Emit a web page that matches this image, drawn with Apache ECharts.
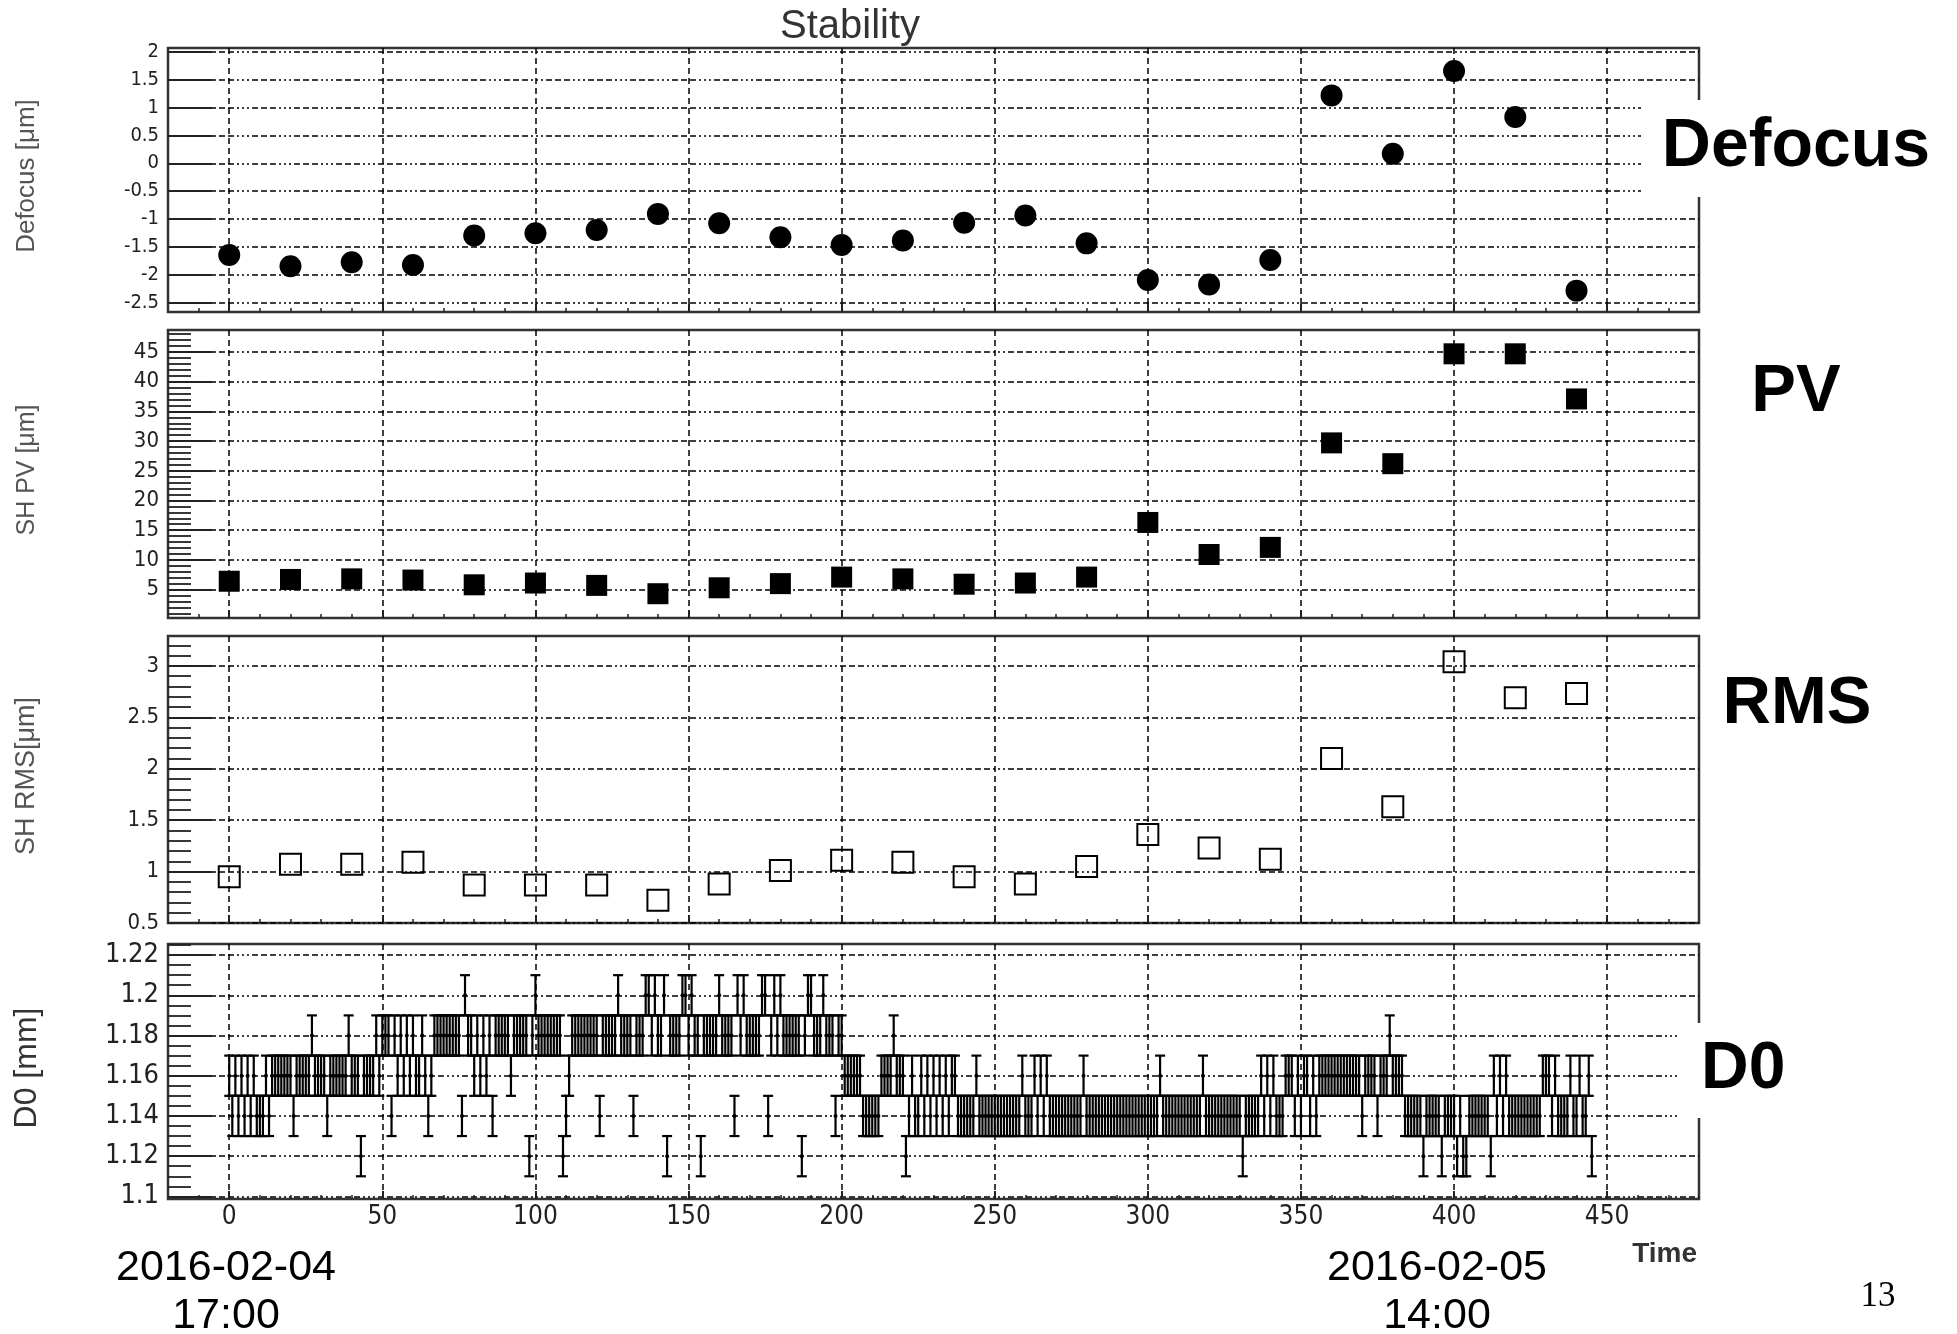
<!DOCTYPE html>
<html>
<head>
<meta charset="utf-8">
<title>Stability</title>
<script src="https://cdn.jsdelivr.net/npm/echarts@6/dist/echarts.min.js"></script>
<style>
  html, body { margin: 0; padding: 0; background: #fff; }
  #chart { width: 1957px; height: 1334px; }
</style>
</head>
<body>
<div id="chart"></div>
<script>
// 采样时间 (Defocus / PV / RMS)
const sampleTime = [0, 20, 40, 60, 80, 100, 120, 140, 160, 180, 200, 220,
  240, 260, 280, 300, 320, 340, 360, 380, 400, 420, 440];

// Defocus [um]
const defocus = [-1.65, -1.85, -1.78, -1.83, -1.30, -1.26, -1.20, -0.91, -1.08, -1.33, -1.47, -1.39,
  -1.07, -0.94, -1.44, -2.10, -2.18, -1.74, 1.22, 0.17, 1.66, 0.83, -2.29];

// SH PV [um]
const shPV = [6.4, 6.7, 6.8, 6.6, 5.8, 6.1, 5.7, 4.3, 5.3, 6.0, 7.1, 6.8,
  5.9, 6.1, 7.1, 16.3, 10.9, 12.1, 29.7, 26.2, 44.7, 44.7, 37.1];

// SH RMS [um]
const shRMS = [0.95, 1.07, 1.07, 1.09, 0.87, 0.87, 0.87, 0.72, 0.88, 1.01, 1.11, 1.09,
  0.95, 0.88, 1.05, 1.36, 1.23, 1.12, 2.10, 1.63, 3.04, 2.69, 2.73];

// D0 [mm]，每个时间单位一个点 (Time = 0, 1, 2, ...)
const d0Value = [
  1.16, 1.14, 1.16, 1.14, 1.16, 1.14, 1.16, 1.14, 1.16, 1.14,
  1.14, 1.14, 1.16, 1.14, 1.16, 1.16, 1.16, 1.16, 1.16, 1.16,
  1.16, 1.14, 1.16, 1.16, 1.16, 1.16, 1.16, 1.18, 1.16, 1.16,
  1.16, 1.16, 1.14, 1.16, 1.16, 1.16, 1.16, 1.16, 1.16, 1.18,
  1.16, 1.16, 1.16, 1.12, 1.16, 1.16, 1.16, 1.16, 1.18, 1.16,
  1.18, 1.18, 1.18, 1.14, 1.18, 1.16, 1.18, 1.16, 1.18, 1.16,
  1.18, 1.16, 1.16, 1.18, 1.16, 1.14, 1.16, 1.18, 1.18, 1.18,
  1.18, 1.18, 1.18, 1.18, 1.18, 1.18, 1.14, 1.20, 1.18, 1.18,
  1.16, 1.18, 1.16, 1.18, 1.16, 1.18, 1.14, 1.18, 1.18, 1.18,
  1.18, 1.18, 1.16, 1.18, 1.18, 1.18, 1.18, 1.18, 1.12, 1.18,
  1.20, 1.18, 1.18, 1.18, 1.18, 1.18, 1.18, 1.18, 1.18, 1.12,
  1.14, 1.16, 1.18, 1.18, 1.18, 1.18, 1.18, 1.18, 1.18, 1.18,
  1.18, 1.14, 1.18, 1.18, 1.18, 1.18, 1.18, 1.20, 1.18, 1.18,
  1.18, 1.18, 1.14, 1.18, 1.18, 1.18, 1.20, 1.20, 1.18, 1.20,
  1.18, 1.18, 1.20, 1.12, 1.18, 1.18, 1.18, 1.18, 1.20, 1.20,
  1.18, 1.20, 1.18, 1.18, 1.12, 1.18, 1.18, 1.18, 1.18, 1.18,
  1.20, 1.18, 1.18, 1.18, 1.18, 1.14, 1.20, 1.18, 1.20, 1.18,
  1.18, 1.18, 1.18, 1.18, 1.20, 1.20, 1.14, 1.18, 1.20, 1.18,
  1.20, 1.18, 1.18, 1.18, 1.18, 1.18, 1.18, 1.12, 1.18, 1.20,
  1.20, 1.18, 1.18, 1.18, 1.20, 1.18, 1.18, 1.18, 1.14, 1.18,
  1.18, 1.16, 1.16, 1.16, 1.16, 1.16, 1.16, 1.14, 1.14, 1.14,
  1.14, 1.14, 1.14, 1.16, 1.16, 1.16, 1.16, 1.18, 1.16, 1.16,
  1.16, 1.12, 1.14, 1.16, 1.14, 1.14, 1.16, 1.14, 1.16, 1.14,
  1.16, 1.14, 1.16, 1.14, 1.16, 1.14, 1.16, 1.16, 1.14, 1.14,
  1.14, 1.14, 1.14, 1.14, 1.16, 1.14, 1.14, 1.14, 1.14, 1.14,
  1.14, 1.14, 1.14, 1.14, 1.14, 1.14, 1.14, 1.14, 1.14, 1.16,
  1.14, 1.14, 1.14, 1.16, 1.14, 1.16, 1.14, 1.16, 1.14, 1.14,
  1.14, 1.14, 1.14, 1.14, 1.14, 1.14, 1.14, 1.14, 1.14, 1.16,
  1.14, 1.14, 1.14, 1.14, 1.14, 1.14, 1.14, 1.14, 1.14, 1.14,
  1.14, 1.14, 1.14, 1.14, 1.14, 1.14, 1.14, 1.14, 1.14, 1.14,
  1.14, 1.14, 1.14, 1.14, 1.16, 1.14, 1.14, 1.14, 1.14, 1.14,
  1.14, 1.14, 1.14, 1.14, 1.14, 1.14, 1.14, 1.14, 1.16, 1.14,
  1.14, 1.14, 1.14, 1.14, 1.14, 1.14, 1.14, 1.14, 1.14, 1.14,
  1.14, 1.12, 1.14, 1.14, 1.14, 1.14, 1.14, 1.16, 1.14, 1.16,
  1.14, 1.16, 1.14, 1.14, 1.14, 1.16, 1.16, 1.16, 1.14, 1.16,
  1.14, 1.16, 1.16, 1.14, 1.16, 1.14, 1.16, 1.16, 1.16, 1.16,
  1.16, 1.16, 1.16, 1.16, 1.16, 1.16, 1.16, 1.16, 1.16, 1.16,
  1.14, 1.16, 1.16, 1.16, 1.16, 1.14, 1.16, 1.16, 1.16, 1.18,
  1.16, 1.16, 1.16, 1.16, 1.14, 1.14, 1.14, 1.14, 1.14, 1.14,
  1.12, 1.14, 1.14, 1.14, 1.14, 1.14, 1.12, 1.14, 1.14, 1.14,
  1.14, 1.12, 1.14, 1.12, 1.12, 1.14, 1.14, 1.14, 1.14, 1.14,
  1.14, 1.14, 1.12, 1.16, 1.14, 1.16, 1.14, 1.16, 1.14, 1.14,
  1.14, 1.14, 1.14, 1.14, 1.14, 1.14, 1.14, 1.14, 1.14, 1.16,
  1.16, 1.16, 1.14, 1.16, 1.14, 1.14, 1.14, 1.14, 1.16, 1.14,
  1.14, 1.16, 1.14, 1.14, 1.16, 1.12
];
const d0Err = 0.01;

// 刻度
const timeTicks = [0, 50, 100, 150, 200, 250, 300, 350, 400, 450];
const defocusTicks = [-2.5, -2, -1.5, -1, -0.5, 0, 0.5, 1, 1.5, 2];
const pvTicks = [5, 10, 15, 20, 25, 30, 35, 40, 45];
const rmsTicks = [0.5, 1, 1.5, 2, 2.5, 3];
const d0Ticks = [1.1, 1.12, 1.14, 1.16, 1.18, 1.2, 1.22];

// 副刻度位置
function steps(from, to, step) {
  const out = [];
  for (let v = from; v <= to + step / 2; v += step) out.push(+v.toFixed(4));
  return out;
}

const NARROW = "'Liberation Sans Narrow', 'DejaVu Sans Condensed', sans-serif";
const SANS = "'Liberation Sans', Arial, sans-serif";
const hDash = [6, 3, 6, 3, 6, 3, 2, 3, 2, 3, 2, 3];
const vDash = [6, 4];

const grids = [
  { left: 168, width: 1531, top: 48, height: 264 },
  { left: 168, width: 1531, top: 330, height: 288 },
  { left: 168, width: 1531, top: 636, height: 287 },
  { left: 168, width: 1531, top: 944, height: 255 }
].map(g => Object.assign(g, { show: true, borderColor: '#333', borderWidth: 2.5, backgroundColor: 'transparent' }));

const yRanges = [
  { min: -2.674, max: 2.072, ticks: defocusTicks, minor: [], size: 20 },
  { min: 0.21, max: 48.71, ticks: pvTicks, minor: steps(1, 48, 1), size: 22 },
  { min: 0.5, max: 3.29, ticks: rmsTicks, minor: steps(0.6, 3.2, 0.1), size: 22 },
  { min: 1.0987, max: 1.2255, ticks: d0Ticks, minor: steps(1.1, 1.225, 0.005), size: 27 }
];

// 主坐标轴
function majorX(i) {
  return {
    type: 'value', gridIndex: i, min: -20, max: 480, position: 'bottom',
    axisLine: { show: false, onZero: false },
    axisTick: { show: true, inside: true, length: 8, customValues: timeTicks, lineStyle: { color: '#222', width: 2 } },
    axisLabel: { show: i === 3, customValues: timeTicks, fontFamily: NARROW, fontSize: 26, color: '#222', margin: 5 },
    splitLine: { show: true, lineStyle: { color: '#000', width: 1.5, type: vDash } }
  };
}
function minorX(i) {
  return {
    type: 'value', gridIndex: i, min: -20, max: 480, position: 'bottom',
    axisLine: { show: false, onZero: false },
    axisTick: { show: true, inside: true, length: 4, customValues: steps(-10, 470, 10), lineStyle: { color: '#222', width: 1.5 } },
    axisLabel: { show: false },
    splitLine: { show: false }
  };
}
function majorY(i) {
  const r = yRanges[i];
  return {
    type: 'value', gridIndex: i, min: r.min, max: r.max, position: 'left',
    axisLine: { show: false, onZero: false },
    axisTick: { show: true, inside: true, length: 44, customValues: r.ticks, lineStyle: { color: '#222', width: 2.2 } },
    axisLabel: { customValues: r.ticks, fontFamily: NARROW, fontSize: r.size, color: '#222', margin: 9 },
    splitLine: { show: true, lineStyle: { color: '#000', width: 1.5, type: hDash } }
  };
}
function minorY(i) {
  const r = yRanges[i];
  return {
    type: 'value', gridIndex: i, min: r.min, max: r.max, position: 'left',
    axisLine: { show: false, onZero: false },
    axisTick: { show: r.minor.length > 0, inside: true, length: 23, customValues: r.minor.length ? r.minor : [r.min], lineStyle: { color: '#222', width: 1.8 } },
    axisLabel: { show: false },
    splitLine: { show: false }
  };
}

// 误差棒
function renderErrorBar(params, api) {
  const x = api.value(0);
  const v = api.value(1);
  const c = api.coord([x, v]);
  const hi = api.coord([x, v + d0Err]);
  const lo = api.coord([x, v - d0Err]);
  const w = 5;
  const st = { stroke: '#000', lineWidth: 2.2 };
  return {
    type: 'group',
    children: [
      { type: 'line', shape: { x1: c[0], y1: hi[1], x2: c[0], y2: lo[1] }, style: st },
      { type: 'line', shape: { x1: c[0] - w, y1: hi[1], x2: c[0] + w, y2: hi[1] }, style: st },
      { type: 'line', shape: { x1: c[0] - w, y1: lo[1], x2: c[0] + w, y2: lo[1] }, style: st },
      { type: 'circle', shape: { cx: c[0], cy: c[1], r: 2 }, style: { fill: '#000' } }
    ]
  };
}

function textEl(text, x, y, font, opts) {
  return Object.assign({
    type: 'text', x: x, y: y, z: 101,
    style: Object.assign({ text: text, font: font, fill: '#000', textAlign: 'center', textVerticalAlign: 'middle' }, (opts && opts.style) || {})
  }, opts && opts.rotation ? { rotation: opts.rotation } : {});
}

const chart = echarts.init(document.getElementById('chart'), null, { renderer: 'canvas' });

chart.setOption({
  animation: false,
  backgroundColor: '#fff',
  grid: grids,
  xAxis: [0, 1, 2, 3].map(majorX).concat([0, 1, 2, 3].map(minorX)),
  yAxis: [0, 1, 2, 3].map(majorY).concat([0, 1, 2, 3].map(minorY)),
  series: [
    {
      name: 'Defocus', type: 'scatter', xAxisIndex: 0, yAxisIndex: 0,
      symbol: 'circle', symbolSize: 22, itemStyle: { color: '#000', opacity: 1 },
      data: sampleTime.map((t, i) => [t, defocus[i]])
    },
    {
      name: 'SH PV', type: 'scatter', xAxisIndex: 1, yAxisIndex: 1,
      symbol: 'rect', symbolSize: 21, itemStyle: { color: '#000', opacity: 1 },
      data: sampleTime.map((t, i) => [t, shPV[i]])
    },
    {
      name: 'SH RMS', type: 'scatter', xAxisIndex: 2, yAxisIndex: 2,
      symbol: 'rect', symbolSize: 21,
      itemStyle: { color: 'rgba(0,0,0,0)', borderColor: '#000', borderWidth: 2, opacity: 1 },
      data: sampleTime.map((t, i) => [t, shRMS[i]])
    },
    {
      name: 'D0', type: 'custom', xAxisIndex: 3, yAxisIndex: 3,
      renderItem: renderErrorBar, clip: true,
      data: d0Value.map((v, i) => [i, v])
    }
  ],
  graphic: [
    // 标题
    textEl('Stability', 850, 27, '40px ' + SANS, { style: { fill: '#333' } }),
    // 纵轴标题
    textEl('Defocus [μm]', 27, 176, '26px ' + SANS, { rotation: Math.PI / 2, style: { fill: '#555' } }),
    textEl('SH PV [μm]', 27, 470, '25px ' + SANS, { rotation: Math.PI / 2, style: { fill: '#555' } }),
    textEl('SH RMS[μm]', 27, 776, '27px ' + SANS, { rotation: Math.PI / 2, style: { fill: '#555' } }),
    textEl('D0 [mm]', 27, 1068, '32px ' + SANS, { rotation: Math.PI / 2, style: { fill: '#333' } }),
    // 右侧标签
    { type: 'rect', z: 100, shape: { x: 1641, y: 100, width: 316, height: 97 }, style: { fill: '#fff' } },
    { type: 'rect', z: 100, shape: { x: 1677, y: 1023, width: 130, height: 95 }, style: { fill: '#fff' } },
    textEl('Defocus', 1796, 147, 'bold 68px ' + SANS),
    textEl('PV', 1796, 393, 'bold 67px ' + SANS),
    textEl('RMS', 1797, 705, 'bold 67px ' + SANS),
    textEl('D0', 1701, 1070, 'bold 66px ' + SANS, { style: { textAlign: 'left' } }),
    // 横轴标题与日期
    textEl('Time', 1697, 1254, 'bold 28px ' + SANS, { style: { textAlign: 'right', fill: '#333' } }),
    textEl('2016-02-04', 226, 1268, '43px ' + SANS),
    textEl('17:00', 226, 1316, '43px ' + SANS),
    textEl('2016-02-05', 1437, 1268, '43px ' + SANS),
    textEl('14:00', 1437, 1316, '43px ' + SANS),
    textEl('13', 1878, 1297, "35px 'Liberation Serif', serif")
  ]
});

window.addEventListener('resize', function() {
  chart.resize();
});
</script>
</body>
</html>
